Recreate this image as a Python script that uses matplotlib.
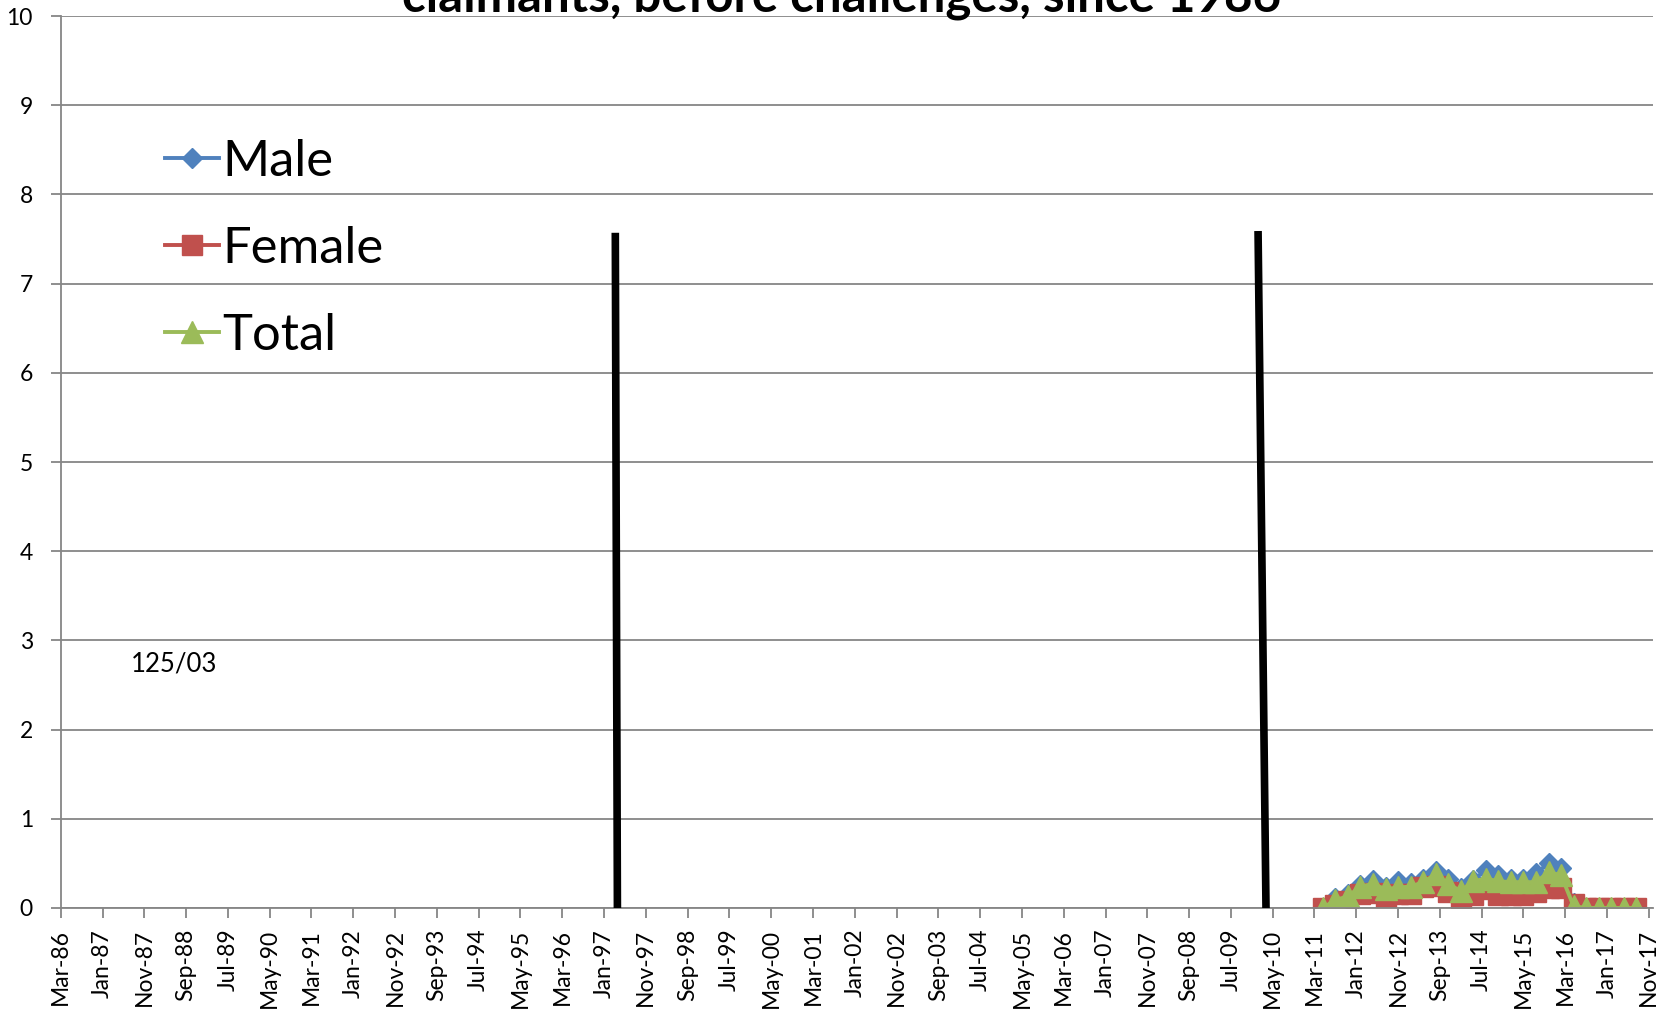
import matplotlib
matplotlib.use('Agg')
import matplotlib.pyplot as plt
import pandas as pd

plt.rcParams['font.family'] = ['Lato', 'DejaVu Sans']

# monthly category axis, Mar-86 .. Nov-17
months = pd.date_range('1986-03-01', '2017-11-01', freq='MS').strftime('%b-%y').tolist()

# quarterly rates
quarters = ['May-11', 'Aug-11', 'Nov-11', 'Feb-12', 'May-12', 'Aug-12', 'Nov-12', 'Feb-13',
            'May-13', 'Aug-13', 'Nov-13', 'Feb-14', 'May-14', 'Aug-14', 'Nov-14', 'Feb-15',
            'May-15', 'Aug-15', 'Nov-15', 'Feb-16', 'May-16', 'Aug-16', 'Nov-16', 'Feb-17',
            'May-17', 'Aug-17']
male = [0.00, 0.11, 0.16, 0.26, 0.31, 0.23, 0.30, 0.28, 0.33, 0.42, 0.32, 0.22, 0.31,
        0.43, 0.37, 0.33, 0.33, 0.39, 0.50, 0.45, 0.06, 0.00, 0.00, 0.00, 0.00, 0.00]
female = [0.00, 0.03, 0.08, 0.16, 0.17, 0.12, 0.16, 0.16, 0.23, 0.25, 0.18, 0.11, 0.15,
          0.21, 0.15, 0.15, 0.15, 0.18, 0.22, 0.22, 0.05, 0.00, 0.00, 0.00, 0.00, 0.00]
total = [0.00, 0.09, 0.13, 0.24, 0.27, 0.21, 0.23, 0.24, 0.29, 0.38, 0.27, 0.19, 0.30,
         0.33, 0.30, 0.29, 0.29, 0.29, 0.40, 0.37, 0.02, 0.00, 0.00, 0.00, 0.00, 0.00]

# hand-drawn marker rules (category position at top / bottom, height)
rule_top_x = [132.7, 286.5]
rule_bottom_x = [133.2, 288.4]
rule_height = [7.57, 7.59]

note_text = '125/03'
note_x, note_y = 27.0, 2.65

title = 'claimants, before challenges, since 1986'

xq = [months.index(q) for q in quarters]
grey = '#868686'

fig = plt.figure(figsize=(16.69, 10.09), dpi=100)
ax = fig.add_axes([0.0364, 0.1001, 0.954, 0.884])

ax.plot(xq, male, color='#4F81BD', lw=2.8, marker='D', ms=10, label='Male')
ax.plot(xq, female, color='#C0504D', lw=2.8, marker='s', ms=15, label='Female')
ax.plot(xq, total, color='#9BBB59', lw=2.8, marker='^', ms=15.5, label='Total')

for xt, xb, h in zip(rule_top_x, rule_bottom_x, rule_height):
    ax.plot([xt, xb], [h, 0], color='black', lw=5.5, solid_capstyle='butt', zorder=5)

ax.text(note_x, note_y, note_text, ha='center', va='baseline', fontsize=18.5)

ax.set_xlim(0, len(months))
ax.set_ylim(0, 10)
ax.set_xticks(range(0, len(months), 10))
ax.set_xticklabels(months[::10], rotation=90, fontsize=16.5)
ax.set_yticks(range(0, 11))
ax.tick_params(axis='x', length=7, width=1.3, color=grey, pad=8)
ax.tick_params(axis='y', length=7, width=1.3, color=grey, pad=13, labelsize=16.5)

ax.grid(axis='y', color=grey, lw=1.3)
ax.set_axisbelow(True)
for s in ['top', 'right']:
    ax.spines[s].set_visible(False)
for s in ['left', 'bottom']:
    ax.spines[s].set_color(grey)
    ax.spines[s].set_linewidth(1.3)

ax.legend(loc='upper left', bbox_to_anchor=(0.0530, 0.885), frameon=False, fontsize=36.5,
          handlelength=1.05, handletextpad=0.07, labelspacing=0.81, numpoints=1,
          borderaxespad=0)

fig.text(0.5045, 1 - 11 / 1009, title, ha='center', va='baseline',
         fontsize=35.5, fontweight='bold')

fig.savefig('out.png', dpi=100)
